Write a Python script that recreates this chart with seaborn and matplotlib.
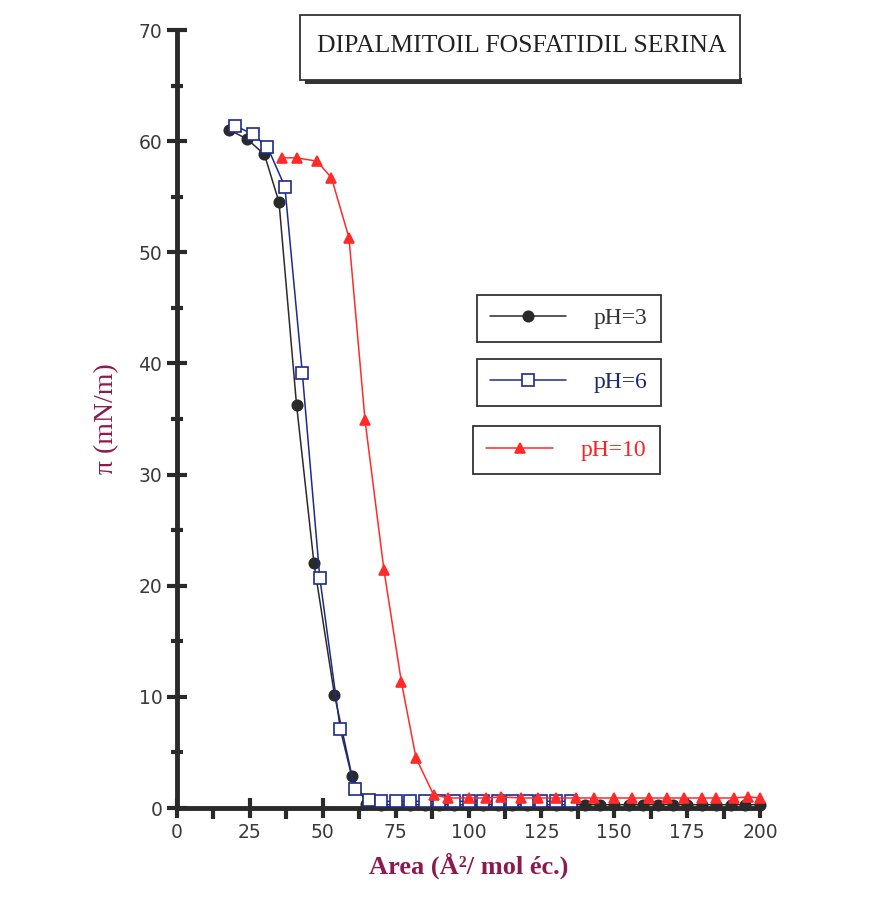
import numpy as np
import pandas as pd
import matplotlib
matplotlib.use("Agg")
import matplotlib.pyplot as plt
import seaborn as sns
from matplotlib.ticker import MultipleLocator
from matplotlib.patches import Rectangle

# ---- data ----
ph3_x = [18, 24, 30, 35, 41, 47, 54, 60, 65, 70, 75, 80, 85, 90, 95, 100, 105, 110, 115, 120,
         125, 130, 135, 140, 145, 150, 155, 160, 165, 170, 175, 180, 185, 190, 195, 200]
ph3_y = [61.0, 60.2, 58.8, 54.5, 36.3, 22.0, 10.2, 2.9, 0.4, 0.3, 0.3, 0.3, 0.3, 0.3, 0.3, 0.3, 0.3, 0.3, 0.3, 0.3,
         0.3, 0.3, 0.3, 0.3, 0.3, 0.3, 0.3, 0.3, 0.3, 0.3, 0.3, 0.3, 0.3, 0.3, 0.3, 0.3]
ph6_x = [20, 26, 31, 37, 43, 49, 56, 61, 66, 70, 75, 80, 85, 90, 95, 100, 105, 110, 115, 120, 125, 130, 135]
ph6_y = [61.4, 60.6, 59.5, 55.9, 39.1, 20.7, 7.1, 1.7, 0.7, 0.6, 0.6, 0.6, 0.6, 0.6, 0.6, 0.6, 0.6, 0.6, 0.6, 0.6, 0.6, 0.6, 0.6]
ph10_x = [36, 41, 48, 53, 59, 64.5, 71, 77, 82, 88, 93, 100, 106, 111, 118, 124, 130, 137, 143, 150,
          156, 162, 168, 174, 180, 185, 191, 196, 200]
ph10_y = [58.5, 58.5, 58.2, 56.7, 51.3, 34.9, 21.4, 11.3, 4.5, 1.2, 0.9, 0.9, 0.9, 1.0, 0.9, 0.9, 0.9, 0.9, 0.9, 0.9,
          0.9, 0.9, 0.9, 0.9, 0.9, 0.9, 0.9, 1.0, 0.9]
labels = ["pH=3", "pH=6", "pH=10"]
colors = ["#2a2a2a", "#1c2a8c", "#ff2a2a"]
text_colors = ["#333333", "#1c2a6c", "#ff2020"]
markers = ["o", "s", "^"]

df = pd.concat([
    pd.DataFrame({"area": ph3_x, "pi": ph3_y, "serie": labels[0]}),
    pd.DataFrame({"area": ph6_x, "pi": ph6_y, "serie": labels[1]}),
    pd.DataFrame({"area": ph10_x, "pi": ph10_y, "serie": labels[2]}),
])

sns.set_theme(style="white")
plt.rcParams["font.family"] = ["DejaVu Sans"]

fig = plt.figure(figsize=(8.74, 9.01), dpi=100)
W, H = 874, 901
ax = fig.add_axes([177 / W, 1 - 808 / H, (760 - 177) / W, (808 - 30) / H])
ax.patch.set_alpha(0)

sizes = {"o": 7.5, "s": 8, "^": 6.5}
handles = []
for lab, col, mk in zip(labels, colors, markers):
    sub = df[df["serie"] == lab]
    mfc = "white" if mk == "s" else col
    sns.lineplot(data=sub, x="area", y="pi", ax=ax, color=col, marker=mk, markersize=sizes[mk],
                 markerfacecolor=mfc, markeredgecolor=col, markeredgewidth=1.2,
                 linewidth=1.1, sort=False, estimator=None, legend=False)
    handles.append(ax.lines[-1])

ax.set_xlim(0, 200)
ax.set_ylim(0, 70)
ax.xaxis.set_major_locator(MultipleLocator(25))
ax.xaxis.set_minor_locator(MultipleLocator(12.5))
ax.yaxis.set_major_locator(MultipleLocator(10))
ax.yaxis.set_minor_locator(MultipleLocator(5))
for s in ["top", "right"]:
    ax.spines[s].set_visible(False)
for s in ["left", "bottom"]:
    ax.spines[s].set_color("#2a2a2a")
    ax.spines[s].set_linewidth(3.5)
ax.tick_params(which="both", bottom=True, left=True)
ax.tick_params(which="major", direction="inout", length=15, width=3, color="#2a2a2a",
               labelsize=13.5, labelcolor="#3a3a3a", pad=3)
ax.tick_params(which="minor", direction="inout", length=9, width=3, color="#2a2a2a")
ax.tick_params(axis="x", which="minor", direction="out", length=8)
for ln in ax.lines:
    ln.set_clip_on(False)
    ln.set_zorder(3)

ax.set_xlabel("Area (Å²/ mol éc.)", fontsize=19, fontweight="bold", color="#8b1a4f",
              family="Liberation Serif", labelpad=8)
ax.set_ylabel("π (mN/m)", fontsize=20, color="#8b1a4f", family="Liberation Serif", labelpad=14)
ax.grid(False)

# title box with shadow
fig.patches.append(Rectangle((305 / W, 1 - 84 / H), 437 / W, 6 / H, transform=fig.transFigure,
                             facecolor="#333333", edgecolor="none", zorder=4))
fig.patches.append(Rectangle((300 / W, 1 - 80 / H), 440 / W, 65 / H, transform=fig.transFigure,
                             facecolor="white", edgecolor="#333333", linewidth=1.3, zorder=5))
fig.text(522 / W, 1 - 46 / H, "DIPALMITOIL FOSFATIDIL SERINA", ha="center", va="center",
         fontsize=18.5, family="Liberation Serif", color="#222222", zorder=6)

# three separate legend boxes
boxes = [(478, 295, 660, 342), (478, 360, 660, 405), (478, 425, 655, 475)]
hlens = [3.2, 3.2, 2.8]
for h, lab, tc, hl, (x0, y0, x1, y1) in zip(handles, labels, text_colors, hlens, boxes):
    leg = fig.legend([h], [lab], loc="center",
                     bbox_to_anchor=((x0 + x1) / 2 / W, 1 - (y0 + y1) / 2 / H),
                     frameon=True, fancybox=False, handlelength=hl, handletextpad=1.2,
                     borderpad=0.55, prop={"family": "Liberation Serif", "size": 17})
    fr = leg.get_frame()
    fr.set_edgecolor("#333333")
    fr.set_linewidth(1.3)
    fr.set_facecolor("white")
    fr.set_alpha(1)
    for t in leg.get_texts():
        t.set_color(tc)

fig.savefig("out.png", dpi=100, facecolor="white")
